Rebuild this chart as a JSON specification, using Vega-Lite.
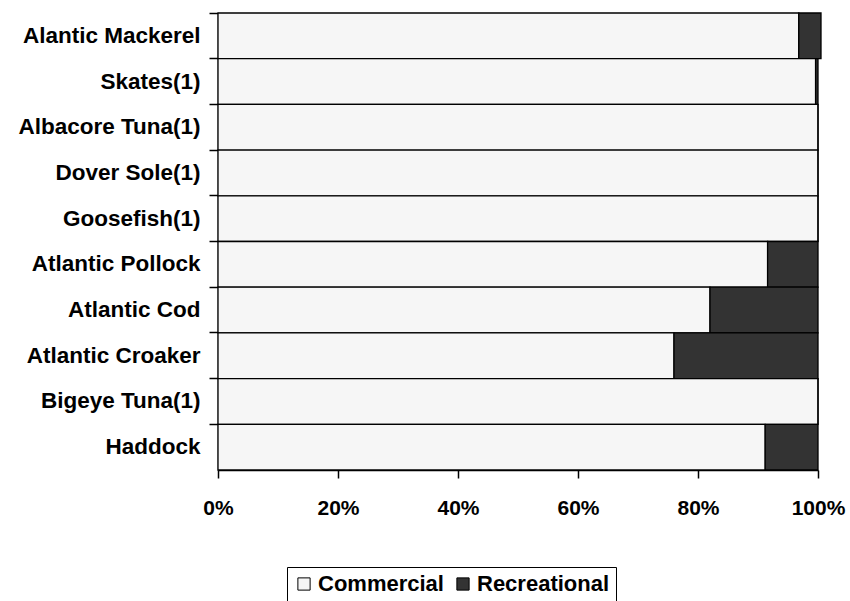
{
  "$schema": "https://vega.github.io/schema/vega-lite/v6.json",
  "autosize": {"type": "none"},
  "padding": {"left": 218, "top": 13, "right": 32, "bottom": 131},
  "width": 600,
  "height": 457,
  "background": "white",
  "data": {
    "values": [
      {"species": "Alantic Mackerel", "sector": "Commercial", "ord": 1, "pct": 96.8},
      {"species": "Alantic Mackerel", "sector": "Recreational", "ord": 2, "pct": 3.7},
      {"species": "Skates(1)", "sector": "Commercial", "ord": 1, "pct": 99.6},
      {"species": "Skates(1)", "sector": "Recreational", "ord": 2, "pct": 0.4},
      {"species": "Albacore Tuna(1)", "sector": "Commercial", "ord": 1, "pct": 100},
      {"species": "Albacore Tuna(1)", "sector": "Recreational", "ord": 2, "pct": 0},
      {"species": "Dover Sole(1)", "sector": "Commercial", "ord": 1, "pct": 100},
      {"species": "Dover Sole(1)", "sector": "Recreational", "ord": 2, "pct": 0},
      {"species": "Goosefish(1)", "sector": "Commercial", "ord": 1, "pct": 100},
      {"species": "Goosefish(1)", "sector": "Recreational", "ord": 2, "pct": 0},
      {"species": "Atlantic Pollock", "sector": "Commercial", "ord": 1, "pct": 91.6},
      {"species": "Atlantic Pollock", "sector": "Recreational", "ord": 2, "pct": 8.4},
      {"species": "Atlantic Cod", "sector": "Commercial", "ord": 1, "pct": 82.0},
      {"species": "Atlantic Cod", "sector": "Recreational", "ord": 2, "pct": 18.0},
      {"species": "Atlantic Croaker", "sector": "Commercial", "ord": 1, "pct": 76.0},
      {"species": "Atlantic Croaker", "sector": "Recreational", "ord": 2, "pct": 24.0},
      {"species": "Bigeye Tuna(1)", "sector": "Commercial", "ord": 1, "pct": 100},
      {"species": "Bigeye Tuna(1)", "sector": "Recreational", "ord": 2, "pct": 0},
      {"species": "Haddock", "sector": "Commercial", "ord": 1, "pct": 91.2},
      {"species": "Haddock", "sector": "Recreational", "ord": 2, "pct": 8.8}
    ]
  },
  "mark": {"type": "bar", "stroke": "black", "strokeWidth": 1.3, "clip": false},
  "encoding": {
    "y": {
      "field": "species",
      "type": "nominal",
      "sort": ["Alantic Mackerel", "Skates(1)", "Albacore Tuna(1)", "Dover Sole(1)", "Goosefish(1)", "Atlantic Pollock", "Atlantic Cod", "Atlantic Croaker", "Bigeye Tuna(1)", "Haddock"],
      "scale": {"paddingInner": 0, "paddingOuter": 0},
      "axis": {
        "title": null,
        "bandPosition": 0,
        "domainColor": "black",
        "domainWidth": 1.5,
        "tickColor": "black",
        "tickWidth": 1.5,
        "tickSize": 9,
        "labelPadding": 9,
        "labelFont": "Liberation Sans",
        "labelFontWeight": "bold",
        "labelFontSize": 22.5,
        "labelColor": "black",
        "labelLimit": 400,
        "labelBound": false
      }
    },
    "x": {
      "field": "pct",
      "type": "quantitative",
      "stack": "zero",
      "scale": {"domain": [0, 100], "nice": false},
      "axis": {
        "title": null,
        "values": [0, 20, 40, 60, 80, 100],
        "labelExpr": "datum.value + '%'",
        "grid": false,
        "domainColor": "black",
        "domainWidth": 1.5,
        "tickColor": "black",
        "tickWidth": 1.5,
        "tickSize": 8,
        "labelPadding": 19,
        "labelFont": "Liberation Sans",
        "labelFontWeight": "bold",
        "labelFontSize": 21,
        "labelColor": "black",
        "labelFlush": false,
        "labelOverlap": false
      }
    },
    "color": {
      "field": "sector",
      "type": "nominal",
      "scale": {"domain": ["Commercial", "Recreational"], "range": ["#f6f6f6", "#333333"]},
      "legend": {
        "title": null,
        "orient": "none",
        "direction": "horizontal",
        "legendX": 69,
        "legendY": 554,
        "symbolType": "square",
        "symbolSize": 150,
        "symbolStrokeColor": "black",
        "symbolStrokeWidth": 1,
        "symbolOpacity": 1,
        "labelFont": "Liberation Sans",
        "labelFontWeight": "bold",
        "labelFontSize": 22,
        "labelColor": "black",
        "labelOffset": 3,
        "columnPadding": 8,
        "strokeColor": "black",
        "padding": 6
      }
    },
    "order": {"field": "ord", "type": "quantitative"}
  },
  "config": {
    "view": {"stroke": null}
  }
}
